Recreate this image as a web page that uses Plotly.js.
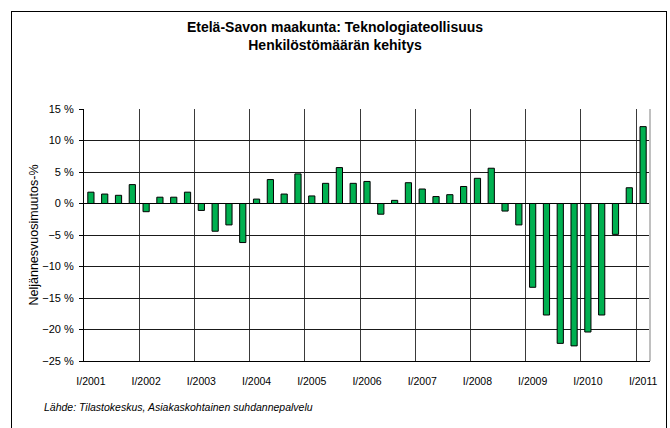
<!DOCTYPE html>
<html>
<head>
<meta charset="utf-8">
<script src="https://cdn.plot.ly/plotly-3.0.1.min.js"></script>
<style>
html,body{margin:0;padding:0;background:#fff;}
#chart{width:670px;height:428px;}
#frame{position:absolute;left:11px;top:11px;width:654px;height:430px;border:1px solid #000;pointer-events:none;}
</style>
</head>
<body>
<div id="chart"></div>
<div id="frame"></div>
<script>
// Data
const years = [2001,2002,2003,2004,2005,2006,2007,2008,2009,2010,2011];
const quarters = ["I","II","III","IV"];
const values = [
  1.8, 1.5, 1.3, 3.0,
  -1.3, 1.0, 1.0, 1.8,
  -1.1, -4.4, -3.4, -6.2,
  0.7, 3.8, 1.5, 4.7,
  1.2, 3.2, 5.7, 3.2,
  3.5, -1.7, 0.5, 3.3,
  2.3, 1.1, 1.4, 2.7,
  4.0, 5.6, -1.2, -3.4,
  -13.3, -17.7, -22.2, -22.6,
  -20.4, -17.7, -4.9, 2.5,
  12.2
];
const titleText = "Etelä-Savon maakunta: Teknologiateollisuus<br>Henkilöstömäärän kehitys";
const yTitle = "Neljännesvuosimuutos-%";
const sourceText = "Lähde: Tilastokeskus, Asiakaskohtainen suhdannepalvelu";

const categories = [];
years.forEach(y => quarters.forEach(q => categories.push(q + "/" + y)));
categories.length = values.length;

const font = "Liberation Sans, Arial, sans-serif";

const trace = {
  type: "bar",
  x: categories,
  y: values,
  marker: {color: "#00B050", line: {color: "#000", width: 1}},
  hoverinfo: "x+y"
};

const layout = {
  width: 670, height: 428,
  margin: {l: 84, r: 20, t: 109, b: 67},
  paper_bgcolor: "#fff", plot_bgcolor: "#fff",
  showlegend: false,
  bargap: 0.55,
  title: {
    text: titleText,
    font: {family: font, size: 14, color: "#000", weight: "bold"},
    x: 0.5, xref: "container", xanchor: "center",
    y: 1 - 32/428, yref: "container", yanchor: "top"
  },
  xaxis: {
    type: "category",
    categoryorder: "array", categoryarray: categories,
    tickmode: "linear", tick0: 0, dtick: 4,
    tickson: "boundaries",
    tickangle: 0,
    ticks: "", showgrid: true, gridcolor: "#3a3a3a", gridwidth: 1,
    showline: true, linecolor: "#000", linewidth: 1,
    tickfont: {family: font, size: 10.5, color: "#000"},
    ticklabelstandoff: 10,
    fixedrange: true
  },
  yaxis: {
    range: [-25, 15], dtick: 5, tick0: 0,
    ticksuffix: " %",
    ticks: "outside", ticklen: 4, tickcolor: "#000",
    showgrid: true, gridcolor: "#1a1a1a", gridwidth: 1,
    zeroline: true, zerolinecolor: "#000", zerolinewidth: 1,
    showline: true, linecolor: "#000", linewidth: 1,
    tickfont: {family: font, size: 11, color: "#000"},
    ticklabelstandoff: 3,
    title: {text: yTitle, font: {family: font, size: 12.5, color: "#000"}, standoff: 0},
    fixedrange: true
  },
  shapes: [
    {type: "line", xref: "paper", yref: "paper", x0: 1, x1: 1, y0: 0, y1: 1,
     line: {color: "#c0c0c0", width: 2}}
  ],
  annotations: [
    {text: sourceText, xref: "paper", yref: "paper",
     x: (42 - 84) / 566, y: -(407 - 361) / 252,
     xanchor: "left", yanchor: "middle", showarrow: false,
     font: {family: font, size: 10.5, color: "#000", style: "italic"}}
  ]
};

Plotly.newPlot("chart", [trace], layout, {displayModeBar: false, staticPlot: true});
</script>
</body>
</html>
